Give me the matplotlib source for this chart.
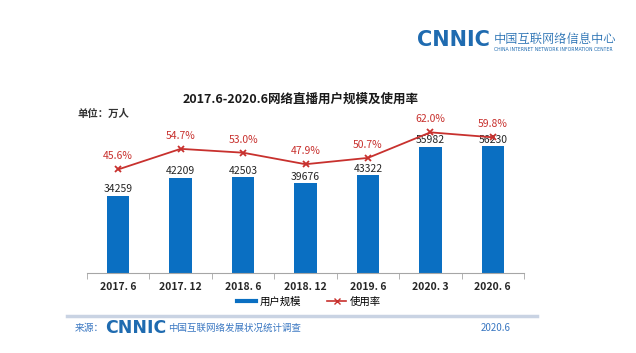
import matplotlib
matplotlib.use("Agg")
import matplotlib.pyplot as plt
from matplotlib.lines import Line2D
import numpy as np

plt.rcParams['font.family'] = ['Noto Sans CJK SC', 'DejaVu Sans']

categories = ["2017. 6", "2017. 12", "2018. 6", "2018. 12", "2019. 6", "2020. 3", "2020. 6"]
users = [34259, 42209, 42503, 39676, 43322, 55982, 56230]
rate = [45.6, 54.7, 53.0, 47.9, 50.7, 62.0, 59.8]

bar_color = "#0A6FC2"
line_color = "#C8312E"
W, H = 636, 353

fig = plt.figure(figsize=(6.36, 3.53), dpi=100)
ax = fig.add_axes([87/W, 1-272.5/H, 437/W, 167.5/H])
x = np.arange(len(categories))
ax.bar(x, users, width=0.36, color=bar_color, zorder=2)
ax.set_xlim(-0.5, len(categories)-0.5)
ax.set_ylim(0, 74540)
for s in ["top", "right", "left"]:
    ax.spines[s].set_visible(False)
ax.spines["bottom"].set_color("#A6A6A6")
ax.set_yticks([])
ax.set_xticks(x)
ax.set_xticklabels(categories, fontsize=7.5, fontweight="bold", color="#262626")
ax.tick_params(axis="x", length=0, pad=7)
ax.set_xticks(np.arange(-0.5, len(categories)), minor=True)
ax.tick_params(axis="x", which="minor", length=4, color="#A6A6A6")
for xi, v in zip(x, users):
    ax.text(xi, v + 600, str(v), ha="center", va="bottom", fontsize=7.5, color="#262626", zorder=3)

ax2 = ax.twinx()
ax2.set_ylim(0, 74.1)
ax2.plot(x, rate, color=line_color, marker="x", markersize=5, markeredgewidth=1.3, linewidth=1.3, zorder=4)
for s in ax2.spines.values():
    s.set_visible(False)
ax2.set_yticks([])
for xi, r in zip(x, rate):
    ax2.text(xi, r + 3.6, f"{r:.1f}%", ha="center", va="bottom", fontsize=7.5, color=line_color)

# Title and unit
fig.text(301/W, 1-99.5/H, "2017.6-2020.6网络直播用户规模及使用率", ha="center", va="center",
         fontsize=9, fontweight="bold", color="#1a1a1a")
fig.text(77/W, 1-113.5/H, "单位：万人", ha="left", va="center", fontsize=7.5,
         fontweight="bold", color="#333333")

# Logo top right
fig.text(417/W, 1-40.5/H, "CNNIC", ha="left", va="center", fontsize=15, fontweight="bold",
         color="#1F6BB0", family="DejaVu Sans")
fig.text(494/W, 1-39.5/H, "中国互联网络信息中心", ha="left", va="center", fontsize=8.8,
         color="#1F6BB0", family=["Noto Serif CJK SC", "Noto Sans CJK SC"])
fig.text(494/W, 1-49.5/H, "CHINA INTERNET NETWORK INFORMATION CENTER", ha="left", va="center",
         fontsize=3.3, color="#1F6BB0", family="DejaVu Sans")

# Legend
handles = [Line2D([0], [0], color=bar_color, linewidth=3),
           Line2D([0], [0], color=line_color, marker="x", markersize=5, linewidth=1.2)]
fig.legend(handles, ["用户规模", "使用率"], loc="center", bbox_to_anchor=(309/W, 1-302/H),
           ncol=2, frameon=False, fontsize=7.5, handlelength=1.8, columnspacing=2.5,
           handletextpad=0.4)

# Footer line
fig.add_artist(Line2D([67/W, 537/W], [1-315.5/H, 1-315.5/H], color="#C9D3E3", linewidth=2.5))
fig.text(75/W, 1-328/H, "来源：", ha="left", va="center", fontsize=7, color="#3B78C2")
fig.text(105/W, 1-328/H, "CNNIC", ha="left", va="center", fontsize=12.5, fontweight="bold",
         color="#1F6BB0", family="DejaVu Sans")
fig.text(168/W, 1-328/H, "中国互联网络发展状况统计调查", ha="left", va="center", fontsize=6.8,
         color="#3B78C2")
fig.text(481/W, 1-328/H, "2020.6", ha="left", va="center", fontsize=7, color="#3B78C2")

fig.savefig("out.png", dpi=100)
